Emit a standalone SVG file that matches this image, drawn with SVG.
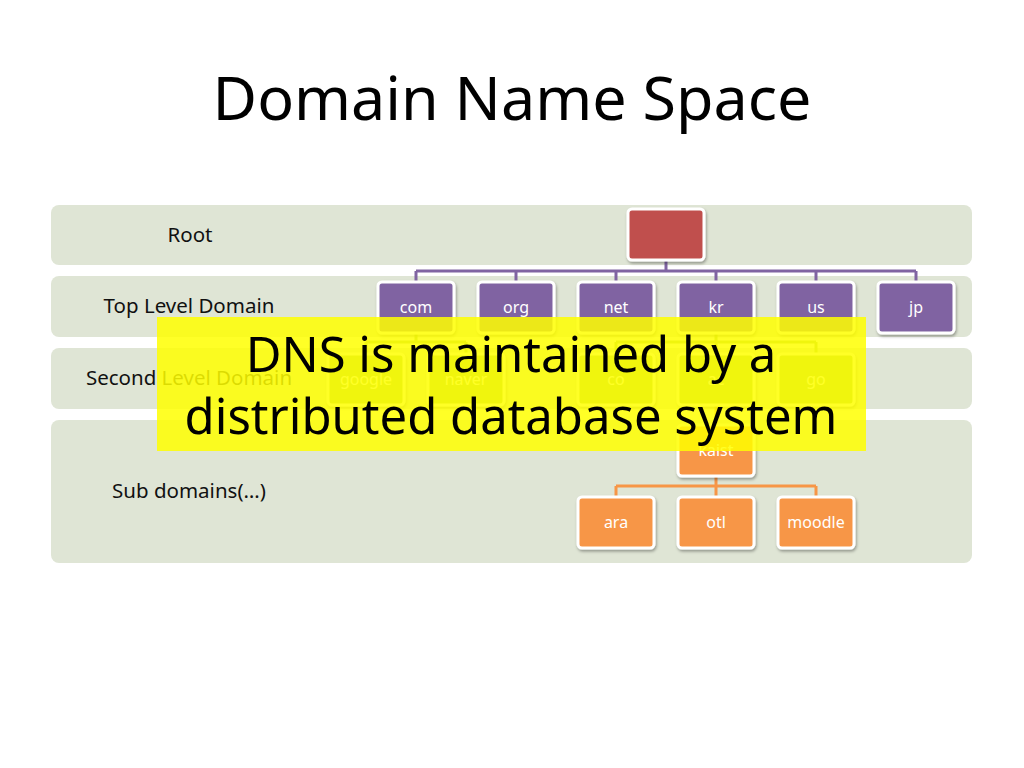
<svg xmlns="http://www.w3.org/2000/svg" width="1024" height="768" viewBox="0 0 1024 768">
<style>
text{font-family:"Noto Sans","Open Sans",sans-serif}
.band{fill:#dfe5d5}
.lbl{font-size:20.5px;fill:#111;text-anchor:middle}
.n{stroke:#fff;stroke-width:3;filter:url(#sh)}
.nt{font-size:16px;fill:#fff;text-anchor:middle}
.c{fill:none;stroke-width:3}
</style>
<defs><filter id="sh" x="-20%" y="-20%" width="140%" height="150%"><feDropShadow dx="1" dy="2" stdDeviation="1.5" flood-opacity="0.35"/></filter></defs>
<rect width="1024" height="768" fill="#fff"/>
<text x="512" y="120" font-size="61" text-anchor="middle" fill="#000">Domain Name Space</text>
<rect class="band" x="51" y="205" width="921" height="60" rx="8"/>
<rect class="band" x="51" y="276" width="921" height="61" rx="8"/>
<rect class="band" x="51" y="348" width="921" height="61" rx="8"/>
<rect class="band" x="51" y="420" width="921" height="143" rx="8"/>
<text class="lbl" x="190" y="242">Root</text>
<text class="lbl" x="189" y="313">Top Level Domain</text>
<text class="lbl" x="189" y="385">Second Level Domain</text>
<text class="lbl" x="189" y="498">Sub domains(…)</text>
<g id="connectors">
<path class="c" stroke="#8064a2" d="M666 260V271M416 271H916M416 271V282M516 271V282M616 271V282M716 271V282M816 271V282M916 271V282"/>
<path class="c" stroke="#9bbb59" d="M416 333V342M366 342H466M366 342V354M466 342V354M716 333V342M616 342H816M616 342V354M716 342V354M816 342V354"/>
<path class="c" stroke="#f79646" d="M716 405V425M716 476V486M616 486H816M616 486V497M716 486V497M816 486V497"/>
</g>
<g id="root"><rect class="n" x="628" y="209" width="76" height="51" rx="4" fill="#c0504d"/></g>
<g id="com"><rect class="n" x="378" y="282" width="76" height="51" rx="4" fill="#8064a2"/><text class="nt" x="416" y="313">com</text></g>
<g id="org"><rect class="n" x="478" y="282" width="76" height="51" rx="4" fill="#8064a2"/><text class="nt" x="516" y="313">org</text></g>
<g id="net"><rect class="n" x="578" y="282" width="76" height="51" rx="4" fill="#8064a2"/><text class="nt" x="616" y="313">net</text></g>
<g id="kr"><rect class="n" x="678" y="282" width="76" height="51" rx="4" fill="#8064a2"/><text class="nt" x="716" y="313">kr</text></g>
<g id="us"><rect class="n" x="778" y="282" width="76" height="51" rx="4" fill="#8064a2"/><text class="nt" x="816" y="313">us</text></g>
<g id="jp"><rect class="n" x="878" y="282" width="76" height="51" rx="4" fill="#8064a2"/><text class="nt" x="916" y="313">jp</text></g>
<g id="google"><rect class="n" x="328" y="354" width="76" height="51" rx="4" fill="#9bbb59"/><text class="nt" x="366" y="385">google</text></g>
<g id="naver"><rect class="n" x="428" y="354" width="76" height="51" rx="4" fill="#9bbb59"/><text class="nt" x="466" y="385">naver</text></g>
<g id="co"><rect class="n" x="578" y="354" width="76" height="51" rx="4" fill="#9bbb59"/><text class="nt" x="616" y="385">co</text></g>
<g id="ac"><rect class="n" x="678" y="354" width="76" height="51" rx="4" fill="#9bbb59"/><text class="nt" x="716" y="385">ac</text></g>
<g id="go"><rect class="n" x="778" y="354" width="76" height="51" rx="4" fill="#9bbb59"/><text class="nt" x="816" y="385">go</text></g>
<g id="kaist"><rect class="n" x="678" y="425" width="76" height="51" rx="4" fill="#f79646"/><text class="nt" x="716" y="456">kaist</text></g>
<g id="ara"><rect class="n" x="578" y="497" width="76" height="51" rx="4" fill="#f79646"/><text class="nt" x="616" y="528">ara</text></g>
<g id="otl"><rect class="n" x="678" y="497" width="76" height="51" rx="4" fill="#f79646"/><text class="nt" x="716" y="528">otl</text></g>
<g id="moodle"><rect class="n" x="778" y="497" width="76" height="51" rx="4" fill="#f79646"/><text class="nt" x="816" y="528">moodle</text></g>
<g id="overlay">
<rect x="157" y="317" width="709" height="134" fill="#ffff00" fill-opacity="0.85"/>
<text x="511" y="372" font-size="49" text-anchor="middle" fill="#000">DNS is maintained by a</text>
<text x="511" y="434" font-size="49" text-anchor="middle" fill="#000">distributed database system</text>
</g>
</svg>
